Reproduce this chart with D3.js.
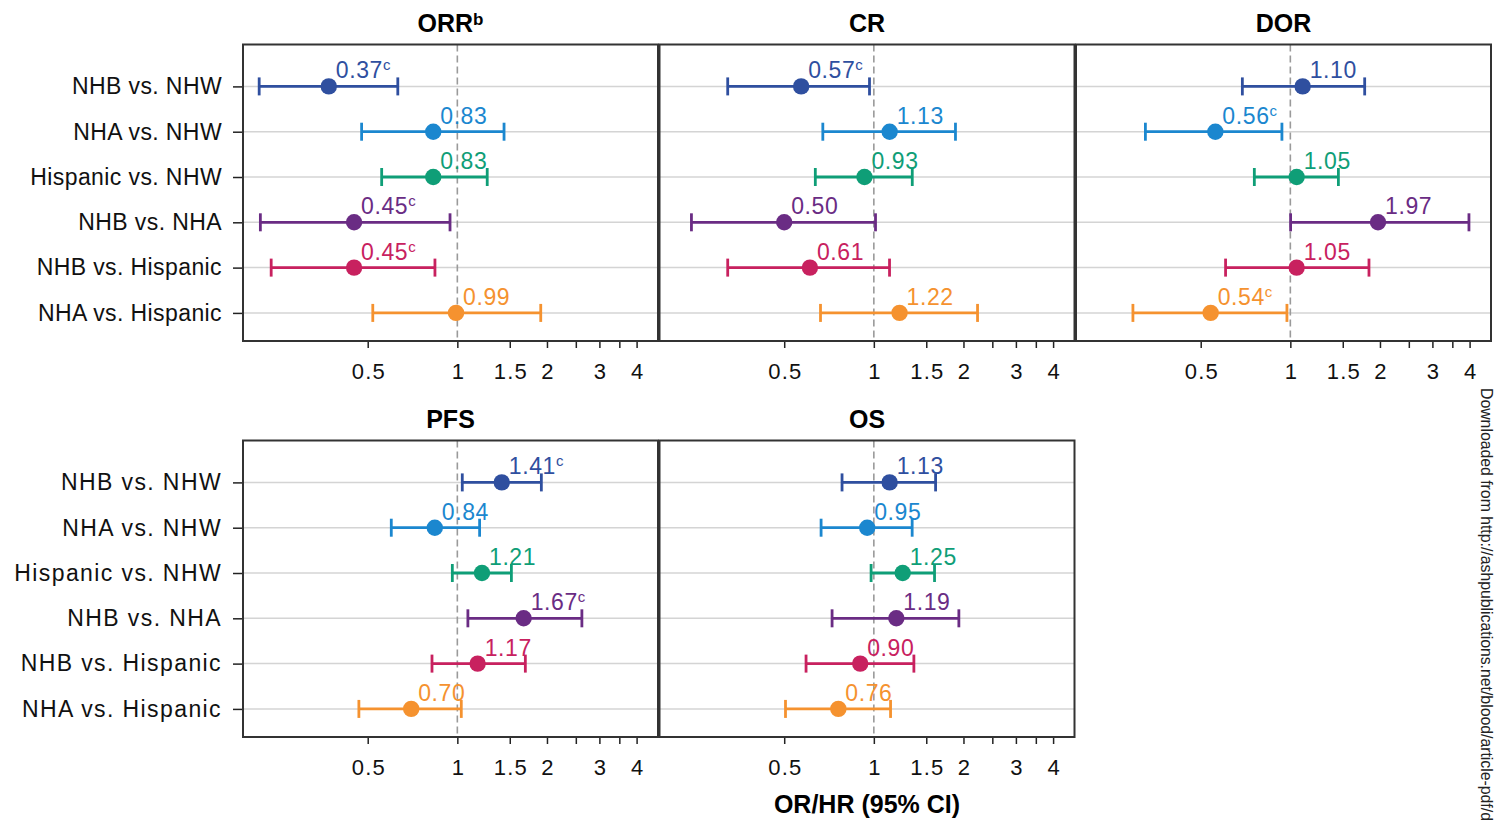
<!DOCTYPE html>
<html>
<head>
<meta charset="utf-8">
<script src="https://cdn.jsdelivr.net/npm/d3@7"></script>
<style>
	body { margin: 0; background: #fff; }
	svg { display: block; font-family: 'Liberation Sans', Arial, sans-serif; }
</style>
</head>
<body>
<svg class="chart"></svg>
<script>
const [width, height] = [1502, 826]

// Comparisons (rows) and their colours.
const comparisons = ['NHB vs. NHW', 'NHA vs. NHW', 'Hispanic vs. NHW', 'NHB vs. NHA', 'NHB vs. Hispanic', 'NHA vs. Hispanic']
const colors = ['#2f4f9f', '#1b87cf', '#0f9e77', '#6a2c84', '#c8215f', '#f5922f']

// Estimates and 95% CIs.
const orrEst = [0.37, 0.83, 0.83, 0.45, 0.45, 0.99]
const orrLow = [0.216, 0.477, 0.557, 0.218, 0.237, 0.520]
const orrHigh = [0.631, 1.435, 1.26, 0.945, 0.841, 1.906]
const orrSig = [true, false, false, true, true, false]

const crEst = [0.57, 1.13, 0.93, 0.50, 0.61, 1.22]
const crLow = [0.323, 0.674, 0.636, 0.244, 0.323, 0.662]
const crHigh = [0.967, 1.88, 1.346, 1.013, 1.129, 2.23]
const crSig = [true, false, false, false, false, false]

const dorEst = [1.10, 0.56, 1.05, 1.97, 1.05, 0.54]
const dorLow = [0.690, 0.326, 0.757, 1.002, 0.606, 0.296]
const dorHigh = [1.777, 0.937, 1.45, 3.98, 1.837, 0.974]
const dorSig = [false, true, false, false, false, true]

const pfsEst = [1.41, 0.84, 1.21, 1.67, 1.17, 0.70]
const pfsLow = [1.039, 0.600, 0.962, 1.085, 0.822, 0.467]
const pfsHigh = [1.915, 1.188, 1.519, 2.62, 1.692, 1.031]
const pfsSig = [true, false, false, true, false, false]

const osEst = [1.13, 0.95, 1.25, 1.19, 0.90, 0.76]
const osLow = [0.782, 0.665, 0.979, 0.724, 0.592, 0.505]
const osHigh = [1.612, 1.345, 1.599, 1.93, 1.363, 1.138]
const osSig = [false, false, false, false, false, false]

const tickValues = [0.5, 1, 1.5, 2, 2.5, 3, 3.5, 4]
const tickLabels = ['0.5', '1', '1.5', '2', '', '3', '', '4']

const panels = [
	{ title: 'ORR', sup: 'b', est: orrEst, low: orrLow, high: orrHigh, sig: orrSig, col: 0, row: 0 },
	{ title: 'CR', sup: '', est: crEst, low: crLow, high: crHigh, sig: crSig, col: 1, row: 0 },
	{ title: 'DOR', sup: '', est: dorEst, low: dorLow, high: dorHigh, sig: dorSig, col: 2, row: 0 },
	{ title: 'PFS', sup: '', est: pfsEst, low: pfsLow, high: pfsHigh, sig: pfsSig, col: 0, row: 1 },
	{ title: 'OS', sup: '', est: osEst, low: osLow, high: osHigh, sig: osSig, col: 1, row: 1 },
]

// Layout
const colLeft = [243, 659.5, 1076]
const rowTop = [44.5, 440.5]
const [pw, ph] = [415, 296.5]

const svg = d3.select('svg.chart')
	.attr('width', width)
	.attr('height', height)
	.attr('viewBox', `0 0 ${width} ${height}`)

const x = d3.scaleLog().domain([0.1906, 4.72]).range([0, pw])
const y = d3.scaleLinear().domain([-0.925, 5.62]).range([0, ph])
const rows = d3.range(comparisons.length)

panels.forEach(p => {
	const g = svg.append('g')
		.attr('transform', `translate(${colLeft[p.col]},${rowTop[p.row]})`)

	// grid lines
	g.selectAll('line.grid')
			.data(rows)
		.enter().append('line')
			.attr('class', 'grid')
			.attr('x1', 0)
			.attr('x2', pw)
			.attr('y1', d => y(d))
			.attr('y2', d => y(d))
			.attr('stroke', '#d4d4d4')
			.attr('stroke-width', 1.5)

	// reference line at 1
	g.append('line')
		.attr('x1', x(1))
		.attr('x2', x(1))
		.attr('y1', 0)
		.attr('y2', ph)
		.attr('stroke', '#9a9a9a')
		.attr('stroke-width', 1.6)
		.attr('stroke-dasharray', '7,4')

	// x axis
	const xAxis = g.append('g')
		.attr('transform', `translate(0,${ph})`)
		.call(d3.axisBottom(x)
			.tickValues(tickValues)
			.tickFormat((d, i) => tickLabels[i])
			.tickSize(7)
			.tickPadding(15))
	xAxis.select('.domain').remove()
	xAxis.selectAll('line').attr('stroke', '#222').attr('stroke-width', 1.5)
	xAxis.selectAll('text')
		.attr('fill', '#111')
		.style('font-size', '22px')
		.style('letter-spacing', '1.2px')
		.attr('dx', '0.6px')

	// y axis on left column only
	if (p.col === 0) {
		const yAxis = g.append('g')
			.call(d3.axisLeft(y)
				.tickValues(rows)
				.tickFormat(i => comparisons[i])
				.tickSize(10)
				.tickPadding(11))
		yAxis.select('.domain').remove()
		yAxis.selectAll('line').attr('stroke', '#222').attr('stroke-width', 1.5)
		yAxis.selectAll('text')
			.attr('fill', '#111')
			.style('font-size', '23px')
			.style('letter-spacing', p.row === 0 ? '0.4px' : '1.4px')
	}

	// error bars
	const bars = g.selectAll('g.bar')
			.data(rows)
		.enter().append('g')
			.attr('class', 'bar')
			.attr('stroke', d => colors[d])
			.attr('stroke-width', 2.8)

	bars.append('line')
		.attr('x1', d => x(p.low[d]))
		.attr('x2', d => x(p.high[d]))
		.attr('y1', d => y(d))
		.attr('y2', d => y(d))
	bars.append('line')
		.attr('x1', d => x(p.low[d]))
		.attr('x2', d => x(p.low[d]))
		.attr('y1', d => y(d) - 9)
		.attr('y2', d => y(d) + 9)
	bars.append('line')
		.attr('x1', d => x(p.high[d]))
		.attr('x2', d => x(p.high[d]))
		.attr('y1', d => y(d) - 9)
		.attr('y2', d => y(d) + 9)

	g.selectAll('circle')
			.data(rows)
		.enter().append('circle')
			.attr('cx', d => x(p.est[d]))
			.attr('cy', d => y(d))
			.attr('r', 8.2)
			.attr('fill', d => colors[d])

	// value labels
	const labels = g.selectAll('text.val')
			.data(rows)
		.enter().append('text')
			.attr('class', 'val')
			.attr('x', d => x(p.est[d]) + 7)
			.attr('y', d => y(d) - 8)
			.attr('fill', d => colors[d])
			.style('font-size', '23px')
			.style('letter-spacing', '0.6px')
	labels.append('tspan').text(d => p.est[d].toFixed(2))
	labels.filter(d => p.sig[d]).append('tspan')
		.attr('dy', -8)
		.style('font-size', '15px')
		.style('letter-spacing', '0px')
		.text('c')

	// frame
	g.append('rect')
		.attr('width', pw)
		.attr('height', ph)
		.attr('fill', 'none')
		.attr('stroke', '#333')
		.attr('stroke-width', 2)

	// title
	const t = g.append('text')
		.attr('x', pw / 2)
		.attr('y', -13)
		.attr('text-anchor', 'middle')
		.style('font-size', '25px')
		.style('font-weight', 'bold')
		.attr('fill', '#000')
	t.append('tspan').text(p.title)
	if (p.sup) {
		t.append('tspan')
			.attr('dy', -7)
			.style('font-size', '17px')
			.text(p.sup)
	}
})

// x axis title
svg.append('text')
	.attr('x', colLeft[1] + pw / 2)
	.attr('y', 813)
	.attr('text-anchor', 'middle')
	.style('font-size', '25px')
	.style('font-weight', 'bold')
	.text('OR/HR (95% CI)')

// side note
svg.append('text')
	.attr('transform', 'translate(1481,388) rotate(90)')
	.style('font-size', '15.8px')
	.attr('fill', '#222')
	.text('Downloaded from http://ashpublications.net/blood/article-pdf/d')
</script>
</body>
</html>
